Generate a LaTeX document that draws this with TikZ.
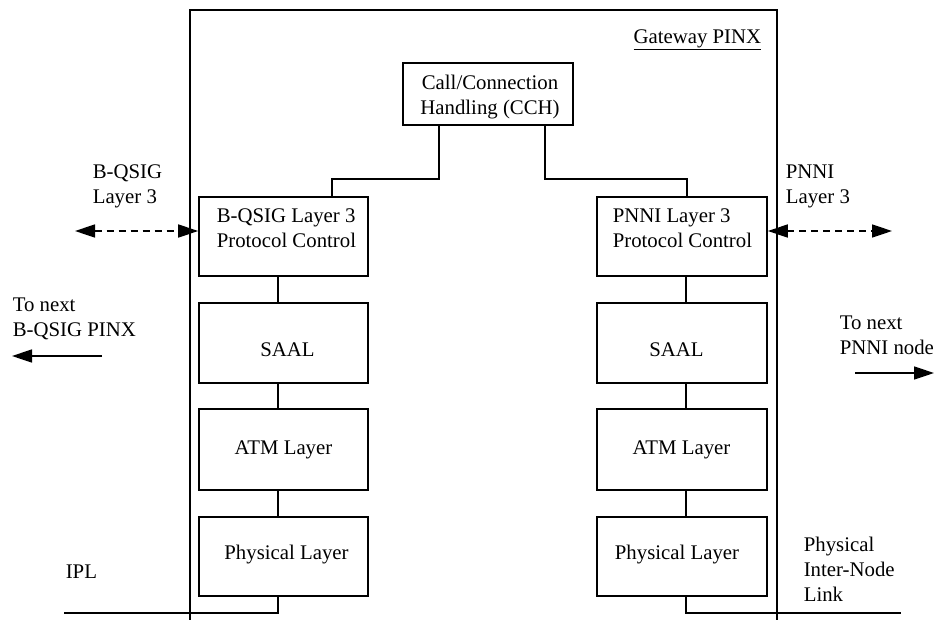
\documentclass[tikz,border=0pt]{standalone}
\usepackage{fontspec}
\setmainfont{Liberation Serif}
\usetikzlibrary{arrows.meta}
\begin{document}
\begin{tikzpicture}[x=1pt,y=-1pt,line width=1.6pt,
  font=\fontsize{20.8}{25}\selectfont,
  box/.style={draw,rectangle,inner sep=0pt},
  lbl/.style={align=left,inner sep=0pt,anchor=base west},
  tip/.style={-{Triangle[length=20pt,width=13pt]}},
  dtip/.style={{Triangle[length=20pt,width=13pt]}-{Triangle[length=20pt,width=13pt]},dash pattern=on 7pt off 5pt}]
\useasboundingbox (0,0) rectangle (934,619);
% outer gateway frame
\draw (190,625) -- (190,10) -- (777,10) -- (777,625);
\node[anchor=base east,inner sep=0pt] (gw) at (762,43) {\underline{Gateway PINX}};
% CCH
\node[box,minimum width=170pt,minimum height=62pt] (cch) at (488,94) {};
\node[align=center,inner sep=0pt,anchor=base] (cchtxt) at (490,114) {Call/Connection\\Handling (CCH)};
% left stack
\node[box,minimum width=169pt,minimum height=79pt] (bqpc) at (283.5,236.5) {};
\node[lbl] (bqpctxt) at (216,247) {B-QSIG Layer 3\\Protocol Control};
\node[box,minimum width=169pt,minimum height=80pt] (bqsaal) at (283.5,343) {};
\node[anchor=base,inner sep=0pt] (bqsaaltxt) at (287.5,356) {SAAL};
\node[box,minimum width=169pt,minimum height=81pt] (bqatm) at (283.5,449.5) {};
\node[anchor=base,inner sep=0pt] (bqatmtxt) at (283.5,454) {ATM Layer};
\node[box,minimum width=169pt,minimum height=79pt] (bqphy) at (283.5,556.5) {};
\node[anchor=base,inner sep=0pt] (bqphytxt) at (286.5,559) {Physical Layer};
% right stack
\node[box,minimum width=170pt,minimum height=79pt] (pnpc) at (682,236.5) {};
\node[lbl] (pnpctxt) at (612,247) {PNNI Layer 3\\Protocol Control};
\node[box,minimum width=170pt,minimum height=80pt] (pnsaal) at (682,343) {};
\node[anchor=base,inner sep=0pt] (pnsaaltxt) at (676.5,356) {SAAL};
\node[box,minimum width=170pt,minimum height=81pt] (pnatm) at (682,449.5) {};
\node[anchor=base,inner sep=0pt] (pnatmtxt) at (681.5,454) {ATM Layer};
\node[box,minimum width=170pt,minimum height=79pt] (pnphy) at (682,556.5) {};
\node[anchor=base,inner sep=0pt] (pnphytxt) at (677,559) {Physical Layer};
% CCH connectors
\draw ([xshift=-49pt]cch.south) -- ++(0,53) -| ([xshift=48.5pt]bqpc.north);
\draw ([xshift=57pt]cch.south) -- ++(0,53) -| ([xshift=5pt]pnpc.north);
% stack connectors
\draw ([xshift=-5.5pt]bqpc.south) -- ([xshift=-5.5pt]bqsaal.north);
\draw ([xshift=-5.5pt]bqsaal.south) -- ([xshift=-5.5pt]bqatm.north);
\draw ([xshift=-5.5pt]bqatm.south) -- ([xshift=-5.5pt]bqphy.north);
\draw ([xshift=4pt]pnpc.south) -- ([xshift=4pt]pnsaal.north);
\draw ([xshift=4pt]pnsaal.south) -- ([xshift=4pt]pnatm.north);
\draw ([xshift=4pt]pnatm.south) -- ([xshift=4pt]pnphy.north);
% physical links
\coordinate (iplend) at (64,613);
\coordinate (pinlend) at (901,613);
\draw ([xshift=-5.5pt]bqphy.south) |- (iplend);
\draw ([xshift=4pt]pnphy.south) |- (pinlend);
% layer 3 dashed arrows
\coordinate (ld) at (75,231);
\coordinate (rd) at (892,231);
\draw[dtip] (ld) -- (ld -| bqpc.west);
\draw[dtip] (rd -| pnpc.east) -- (rd);
% solid arrows
\coordinate (la1) at (102,356);
\coordinate (la2) at (12,356);
\draw[tip] (la1) -- (la2);
\coordinate (ra1) at (855,373);
\coordinate (ra2) at (934,373);
\draw[tip] (ra1) -- (ra2);
% labels
\node[lbl] (l3l) at (92,203) {B-QSIG\\Layer 3};
\node[lbl] (l3r) at (785,203) {PNNI\\Layer 3};
\node[lbl] (tnl) at (12,336) {To next\\B-QSIG PINX};
\node[lbl] (tnr) at (839,354) {To next\\PNNI node};
\node[lbl] (ipl) at (65,578) {IPL};
\node[lbl] (pinl) at (803,601) {Physical\\Inter-Node\\Link};
\end{tikzpicture}
\end{document}
